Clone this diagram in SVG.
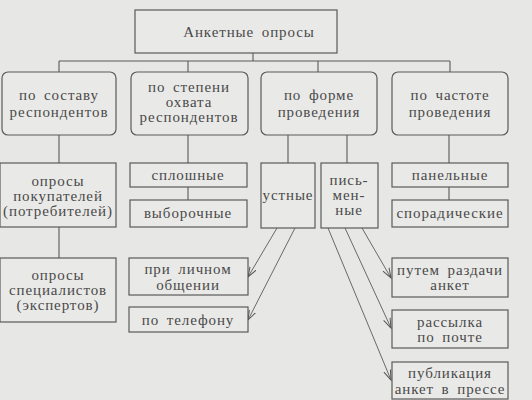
<svg xmlns="http://www.w3.org/2000/svg" width="532" height="400" viewBox="0 0 532 400">
<defs>
<marker id="arr" markerUnits="userSpaceOnUse" markerWidth="12" markerHeight="10" refX="10" refY="4" orient="auto">
<path d="M0,0.5 L10,4 L0,7.5" fill="none" stroke="#555" stroke-width="1"/>
</marker>
</defs>
<style>
.bg{fill:#e7e7e5}
.box{fill:#e9e9e7;stroke:#5a5a5a;stroke-width:1.2}
.ln{fill:none;stroke:#5a5a5a;stroke-width:1.1}
.ar{fill:none;stroke:#5a5a5a;stroke-width:0.9;marker-end:url(#arr)}
text{font-family:"Liberation Serif","DejaVu Serif",serif;font-size:15px;fill:#4a4a4a;text-anchor:middle;dominant-baseline:central;letter-spacing:0.9px;word-spacing:3px}
</style>
<rect class="bg" x="0" y="0" width="532" height="400"/>
<g id="connectors">
<path class="ln" d="M253,53 V61 M59,61 H450 M59,61 V72 M188,61 V72 M318,61 V72 M450,61 V72"/>
<path class="ln" d="M59,135 V163 M59,227 V258 M188,135 V163 M188,187 V200 M288,135 V163 M347,135 V163 M449,135 V163 M449,187 V200"/>
<line class="ar" x1="277" y1="228" x2="248" y2="277"/>
<line class="ar" x1="295" y1="228" x2="248" y2="320"/>
<line class="ar" x1="362" y1="228" x2="391" y2="278"/>
<line class="ar" x1="345" y1="228" x2="391" y2="328"/>
<line class="ar" x1="328" y1="228" x2="391" y2="380"/>
</g>
<g id="root"><rect class="box" x="135" y="10" width="202" height="43"/><text x="249" y="32">Анкетные опросы</text></g>
<g id="c1"><rect class="box" x="2" y="72" width="114" height="63" rx="6"/><text x="59" y="95">по составу</text><text x="59" y="112">респондентов</text></g>
<g id="c2"><rect class="box" x="131" y="72" width="117" height="63" rx="6"/><text x="189" y="87">по степени</text><text x="189" y="102">охвата</text><text x="189" y="117">респондентов</text></g>
<g id="c3"><rect class="box" x="261" y="72" width="116" height="63" rx="6"/><text x="319" y="95">по форме</text><text x="319" y="112">проведения</text></g>
<g id="c4"><rect class="box" x="392" y="72" width="116" height="63" rx="6"/><text x="450" y="95">по частоте</text><text x="450" y="112">проведения</text></g>
<g id="buyers"><rect class="box" x="0" y="163" width="116" height="64"/><text x="58" y="181">опросы</text><text x="58" y="196">покупателей</text><text x="58" y="211">(потребителей)</text></g>
<g id="experts"><rect class="box" x="0" y="258" width="116" height="64"/><text x="58" y="275">опросы</text><text x="58" y="290">специалистов</text><text x="58" y="305">(экспертов)</text></g>
<g id="solid"><rect class="box" x="130" y="163" width="117" height="24"/><text x="188" y="175">сплошные</text></g>
<g id="sample"><rect class="box" x="130" y="200" width="117" height="27"/><text x="188" y="213">выборочные</text></g>
<g id="oral"><rect class="box" x="261" y="163" width="54" height="65"/><text x="288" y="195">устные</text></g>
<g id="written"><rect class="box" x="321" y="163" width="57" height="65"/><text x="349" y="180">пись-</text><text x="349" y="195">мен-</text><text x="349" y="210">ные</text></g>
<g id="panel"><rect class="box" x="392" y="163" width="116" height="24"/><text x="450" y="175">панельные</text></g>
<g id="sporadic"><rect class="box" x="392" y="200" width="116" height="27"/><text x="450" y="213">спорадические</text></g>
<g id="personal"><rect class="box" x="129" y="258" width="119" height="37"/><text x="188" y="269">при личном</text><text x="188" y="285">общении</text></g>
<g id="phone"><rect class="box" x="129" y="307" width="119" height="25"/><text x="188" y="320">по телефону</text></g>
<g id="handout"><rect class="box" x="392" y="258" width="116" height="39"/><text x="450" y="270">путем раздачи</text><text x="450" y="285">анкет</text></g>
<g id="mail"><rect class="box" x="392" y="310" width="116" height="38"/><text x="450" y="322">рассылка</text><text x="450" y="337">по почте</text></g>
<g id="press"><rect class="box" x="392" y="362" width="116" height="37"/><text x="450" y="373">публикация</text><text x="450" y="389">анкет в прессе</text></g>
</svg>
